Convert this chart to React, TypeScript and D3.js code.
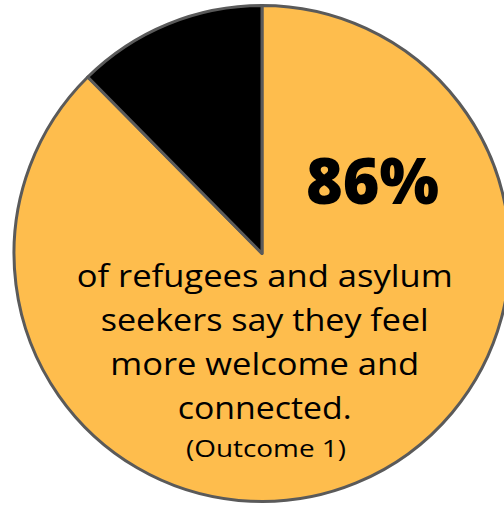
import React from "react";
import * as d3 from "d3";

const sliceLabels = ["Feel more welcome", "Other"];
const sliceValues = [87.6, 12.4];
const sliceColors = ["#FEBD4D", "#000000"];
const headline = "86%";
const bodyLines = [
  "of refugees and asylum",
  "seekers say they feel",
  "more welcome and",
  "connected.",
];
const noteLine = "(Outcome 1)";

const W = 504;
const H = 505;
const cx = 262;
const cy = 253.5;
const R = 248;

export default function App() {
  const pie = d3.pie<number>().sort(null).startAngle(0).endAngle(2 * Math.PI);
  const arcs = pie(sliceValues);
  const arc = d3.arc<d3.PieArcDatum<number>>().innerRadius(0).outerRadius(R);
  const bodyWidths = [376, 328, 309, 174];
  const bodyBaselines = [287, 330.5, 375, 418.5];
  return (
    <svg
      width={W}
      height={H}
      style={{ position: "absolute", left: 0, top: 0, background: "#fff" }}
    >
      <g transform={`translate(${cx},${cy})`}>
        {arcs.map((a, i) => (
          <path
            key={sliceLabels[i]}
            d={arc(a) || ""}
            fill={sliceColors[i]}
            stroke="#5a5a5a"
            strokeWidth={3}
            strokeLinejoin="round"
          />
        ))}
      </g>
      <text
        x={372.5}
        y={204}
        textAnchor="middle"
        fontFamily="'Open Sans', sans-serif"
        fontWeight={800}
        fontSize={63}
        textLength={133}
        lengthAdjust="spacingAndGlyphs"
        fill="#000"
      >
        {headline}
      </text>
      {bodyLines.map((t, i) => (
        <text
          key={t}
          x={264.7}
          y={bodyBaselines[i]}
          textAnchor="middle"
          fontFamily="'Open Sans', sans-serif"
          fontSize={30.5}
          textLength={bodyWidths[i]}
          lengthAdjust="spacingAndGlyphs"
          fill="#000"
        >
          {t}
        </text>
      ))}
      <text
        x={266}
        y={457}
        textAnchor="middle"
        fontFamily="'Open Sans', sans-serif"
        fontSize={23.5}
        textLength={160}
        lengthAdjust="spacingAndGlyphs"
        fill="#000"
      >
        {noteLine}
      </text>
    </svg>
  );
}
